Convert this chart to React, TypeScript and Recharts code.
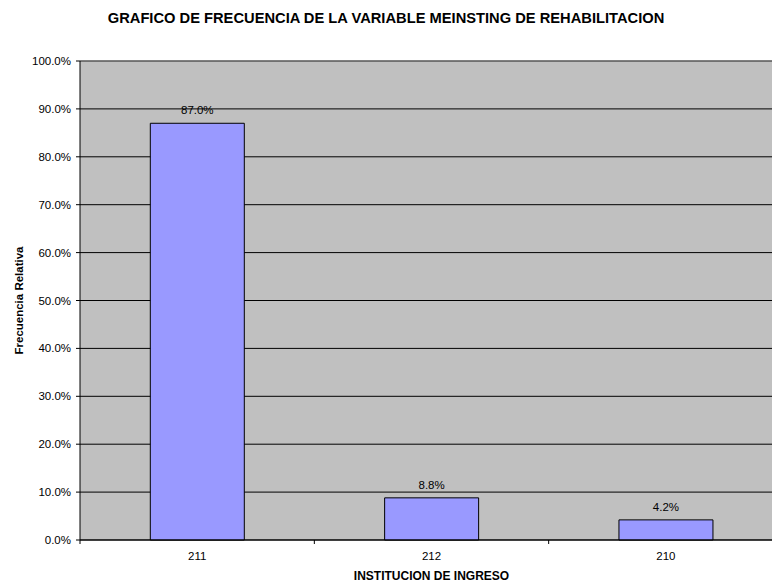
import React from 'react'
import { BarChart, Bar, XAxis, YAxis, CartesianGrid, ReferenceLine, LabelList } from 'recharts'

const categories = ['211', '212', '210']
const relativeFreq = [87.0, 8.8, 4.2]
const yTicks = [0, 10, 20, 30, 40, 50, 60, 70, 80, 90, 100]

const title = 'GRAFICO DE FRECUENCIA DE LA VARIABLE MEINSTING DE REHABILITACION'
const xTitle = 'INSTITUCION DE INGRESO'
const yTitle = 'Frecuencia Relativa'

const data = categories.map((c, i) => ({ name: c, value: relativeFreq[i] }))

const FONT = '"Liberation Sans", Arial, sans-serif'
const pct = (v: number) => `${Number(v).toFixed(1)}%`

// category label in the middle, small tick marks on the category boundaries
const CategoryTick = (props: any) => {
    const { x, payload, index } = props
    const y = 540
    const half = payload.offset || 0
    return (
        <g>
            <line x1={x - half} y1={y} x2={x - half} y2={y + 4} stroke="#000" />
            {index === categories.length - 1 && (
                <line x1={x + half} y1={y} x2={x + half} y2={y + 4} stroke="#000" />
            )}
            <text x={x} y={y + 20} textAnchor="middle" fontSize={11.5} fontFamily={FONT} fill="#000">
                {payload.value}
            </text>
        </g>
    )
}

const YTitle = (props: any) => {
    const vb = props.viewBox || {}
    const cy = vb.y + vb.height / 2
    return (
        <text x={23} y={cy} transform={`rotate(-90, 23, ${cy})`} textAnchor="middle"
            fontSize={11.5} fontWeight="bold" fontFamily={FONT} fill="#000">
            {yTitle}
        </text>
    )
}

const XTitle = (props: any) => {
    const vb = props.viewBox || {}
    const cx = vb.x + vb.width / 2
    return (
        <text x={cx} y={580} textAnchor="middle" fontSize={12} fontWeight="bold" fontFamily={FONT} fill="#000">
            {xTitle}
        </text>
    )
}

export default function App() {
    return (
        <div style={{ position: 'absolute', left: 0, top: 0, width: 772, height: 586, overflow: 'hidden', background: '#fff', fontFamily: FONT }}>
            <div style={{ position: 'absolute', left: 0, top: 10, width: 772, textAlign: 'center', fontSize: 14.7, fontWeight: 'bold', color: '#000' }}>
                {title}
            </div>
            <BarChart
                width={790}
                height={586}
                data={data}
                margin={{ top: 61, right: 7, bottom: 0, left: 0 }}
                barCategoryGap="30%"
            >
                <CartesianGrid vertical={false} stroke="#000" fill="#C0C0C0" fillOpacity={1} />
                <XAxis
                    dataKey="name"
                    height={46}
                    axisLine={{ stroke: '#000' }}
                    tickLine={false}
                    tickSize={0}
                    tick={<CategoryTick />}
                    interval={0}
                    label={<XTitle />}
                />
                <YAxis
                    width={80}
                    domain={[0, 100]}
                    ticks={yTicks}
                    interval={0}
                    tickFormatter={pct}
                    tickSize={4}
                    tickMargin={5}
                    axisLine={{ stroke: '#000' }}
                    tickLine={{ stroke: '#000' }}
                    tick={{ fontSize: 11.5, fill: '#000', fontFamily: FONT }}
                    label={<YTitle />}
                />
                <ReferenceLine y={100} stroke="#808080" />
                <Bar dataKey="value" fill="#9999FF" stroke="#000" strokeWidth={1} isAnimationActive={false}>
                    <LabelList dataKey="value" position="top" offset={9} formatter={pct}
                        style={{ fontSize: 11.5, fill: '#000', fontFamily: FONT }} />
                </Bar>
            </BarChart>
        </div>
    )
}
